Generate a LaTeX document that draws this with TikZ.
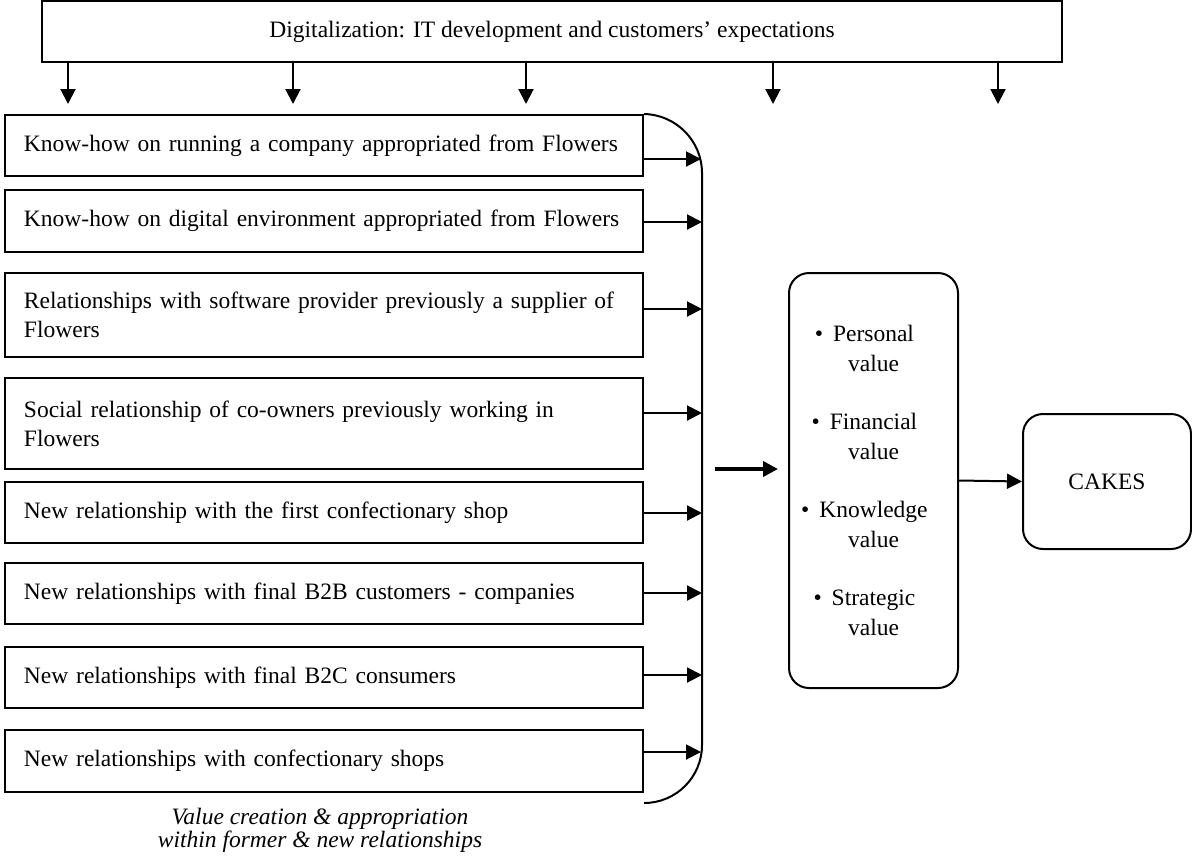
\documentclass[tikz,border=0pt]{standalone}
\usepackage{fontspec}
\setmainfont{Liberation Serif}
\usetikzlibrary{positioning,arrows.meta}
\tikzstyle{arrow} = [line width=1pt,-{Triangle[length=7.5pt,width=7.5pt]}]

\begin{document}
\begin{tikzpicture}[x=0.5pt,y=-0.5pt]
\tikzset{relbox/.style={draw,line width=1pt,anchor=west,text width=300pt,align=left,
    inner xsep=9.5pt,font=\fontsize{11.75}{14.5}\selectfont},
  valbox/.style={draw,line width=1pt,rounded corners=10pt,align=center,
    font=\fontsize{11.75}{15}\selectfont}}
\useasboundingbox (0,0) rectangle (1192,858);

\node[draw,line width=1pt,minimum width=510pt,minimum height=30.5pt,font=\fontsize{11.75}{14}\selectfont]
  (digit) at (552,31.5) {Digitalization: IT development and customers’ expectations};

\coordinate (d1) at (68,104);
\coordinate (d2) at (293,104);
\coordinate (d3) at (526,104);
\coordinate (d4) at (773,104);
\coordinate (d5) at (998,104);
\draw [arrow] (d1 |- digit.south) -- (d1);
\draw [arrow] (d2 |- digit.south) -- (d2);
\draw [arrow] (d3 |- digit.south) -- (d3);
\draw [arrow] (d4 |- digit.south) -- (d4);
\draw [arrow] (d5 |- digit.south) -- (d5);

\node[relbox,minimum height=30.5pt] (b1) at (4,145.5) {Know-how on running a company appropriated from Flowers};
\node[relbox,minimum height=31pt] (b2) at (4,221) {Know-how on digital environment appropriated from Flowers};
\node[relbox,minimum height=42pt] (b3) at (4,315) {Relationships with software provider previously a supplier of\\Flowers};
\node[relbox,minimum height=45.5pt] (b4) at (4,423.5) {Social relationship of co-owners previously working in\\Flowers};
\node[relbox,minimum height=30.5pt] (b5) at (4,512.5) {New relationship with the first confectionary shop};
\node[relbox,minimum height=30.5pt] (b6) at (4,593.5) {New relationships with final B2B customers - companies};
\node[relbox,minimum height=30.5pt] (b7) at (4,677.5) {New relationships with final B2C consumers};
\node[relbox,minimum height=31pt] (b8) at (4,761) {New relationships with confectionary shops};

% bracket collecting the relationships
\draw [line width=1pt,rounded corners=29pt] (b1.north east) -- (702,115) -- (702,803) -- (b8.east |- 0,803);

\coordinate (k1) at (701,159);
\coordinate (k2) at (702,222);
\coordinate (k3) at (702,309);
\coordinate (k4) at (702,413);
\coordinate (k5) at (702,513);
\coordinate (k6) at (702,593);
\coordinate (k7) at (702,675);
\coordinate (k8) at (701,752);
\draw [arrow] (b1.east |- k1) -- (k1);
\draw [arrow] (b2.east |- k2) -- (k2);
\draw [arrow] (b3.east |- k3) -- (k3);
\draw [arrow] (b4.east |- k4) -- (k4);
\draw [arrow] (b5.east |- k5) -- (k5);
\draw [arrow] (b6.east |- k6) -- (k6);
\draw [arrow] (b7.east |- k7) -- (k7);
\draw [arrow] (b8.east |- k8) -- (k8);

\node[font=\itshape\fontsize{11.75}{11.5}\selectfont,align=center] (caption) at (320,830)
  {Value creation \& appropriation\\within former \& new relationships};

\node[valbox,minimum width=84.5pt,minimum height=207.5pt] (val) at (873.5,480.5)
  {\llap{\textbullet\hspace{5pt}}Personal\\value\\[14pt]
   \llap{\textbullet\hspace{5pt}}Financial\\value\\[14pt]
   \llap{\textbullet\hspace{5pt}}Knowledge\\value\\[14pt]
   \llap{\textbullet\hspace{5pt}}Strategic\\value};

\coordinate (m1) at (715,469);
\coordinate (m2) at (778,469);
\draw [arrow,line width=2pt] (m1) -- (m2);

\node[valbox,minimum width=84pt,minimum height=67.5pt] (cakes) at (1107,481.5) {CAKES};
\draw [arrow] (val.east) -- (cakes.west);
\end{tikzpicture}
\end{document}
